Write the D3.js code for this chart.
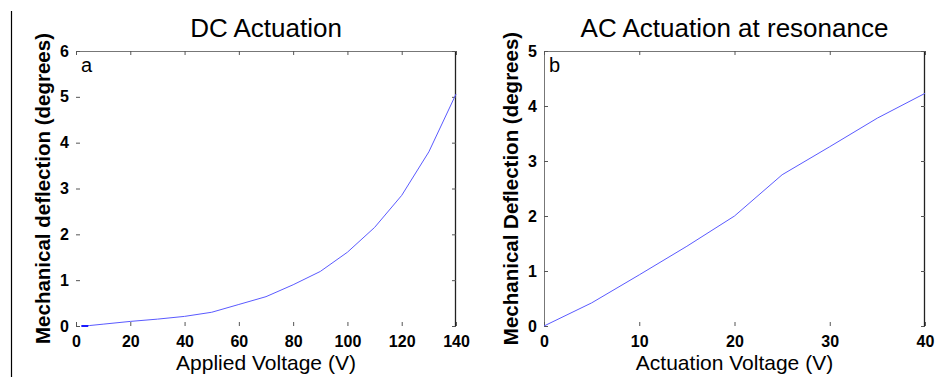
<!DOCTYPE html>
<html>
<head>
<meta charset="utf-8">
<script src="https://cdn.jsdelivr.net/npm/d3@7/dist/d3.min.js"></script>
<style>
  html, body { margin: 0; padding: 0; background: #fff; }
  svg { display: block; }
  text { font-family: "Liberation Sans", Arial, sans-serif; fill: #000; }
</style>
</head>
<body>
<svg id="chart" width="935" height="377"></svg>
<script>
// ---- Data ----
const dcVoltage    = [2, 5, 10, 20, 30, 40, 50, 60, 70, 80, 90, 100, 110, 120, 130, 140];
const dcDeflection = [0, 0.01, 0.04, 0.1, 0.15, 0.21, 0.3, 0.47, 0.64, 0.9, 1.19, 1.61, 2.15, 2.85, 3.8, 5.06];
const dcStartVoltage    = [2, 4.5];
const dcStartDeflection = [0, 0];
const acVoltage    = [0, 5, 10, 15, 20, 25, 30, 35, 40];
const acDeflection = [0, 0.42, 0.93, 1.45, 2.0, 2.75, 3.26, 3.78, 4.23];
const dcXTicks = [0, 20, 40, 60, 80, 100, 120, 140];
const dcYTicks = [0, 1, 2, 3, 4, 5, 6];
const acXTicks = [0, 10, 20, 30, 40];
const acYTicks = [0, 1, 2, 3, 4, 5];

const svg = d3.select("#chart");

// page border line at far left
svg.append("line").attr("x1", 11.5).attr("x2", 11.5).attr("y1", 11).attr("y2", 377)
  .attr("stroke", "#000").attr("stroke-width", 1.2);

function panel(opts) {
  const g = svg.append("g");
  const x = d3.scaleLinear().domain(opts.xDomain).range([opts.left, opts.right]);
  const y = d3.scaleLinear().domain(opts.yDomain).range([opts.bottom, opts.top]);
  const T = 4;

  // frame lines
  g.append("line").attr("x1", opts.left).attr("x2", opts.right).attr("y1", opts.top + 0.5).attr("y2", opts.top + 0.5)
    .attr("stroke", "#777").attr("stroke-width", 1);
  g.append("line").attr("x1", opts.right - 0.5).attr("x2", opts.right - 0.5).attr("y1", opts.top).attr("y2", opts.bottom)
    .attr("stroke", "#222").attr("stroke-width", 1.3);
  if (opts.leftLine) {
    g.append("line").attr("x1", opts.left + 0.5).attr("x2", opts.left + 0.5).attr("y1", opts.top).attr("y2", opts.bottom)
      .attr("stroke", "#777").attr("stroke-width", 1);
  }

  // axes (inward ticks)
  const styleAxis = (sel, labels) => {
    sel.select(".domain").remove();
    sel.selectAll(".tick line").attr("stroke", "#555").attr("stroke-width", 1);
    sel.selectAll(".tick text")
      .style("font-family", '"Liberation Sans", Arial, sans-serif')
      .style("font-size", "16px").style("font-weight", "bold").attr("fill", "#000");
    if (!labels) sel.selectAll(".tick text").remove();
  };
  g.append("g").attr("transform", `translate(0,${opts.bottom})`)
    .call(d3.axisBottom(x).tickValues(opts.xTicks).tickSize(-T).tickPadding(10).tickFormat(d3.format("d")))
    .call(s => styleAxis(s, true));
  g.append("g").attr("transform", `translate(0,${opts.top})`)
    .call(d3.axisTop(x).tickValues(opts.xTicks).tickSize(-T))
    .call(s => styleAxis(s, false));
  g.append("g").attr("transform", `translate(${opts.left},0)`)
    .call(d3.axisLeft(y).tickValues(opts.yTicks).tickSize(-T).tickPadding(7).tickFormat(d3.format("d")))
    .call(s => styleAxis(s, true));
  g.append("g").attr("transform", `translate(${opts.right},0)`)
    .call(d3.axisRight(y).tickValues(opts.yTicks).tickSize(-T))
    .call(s => styleAxis(s, false));

  const line = d3.line().x(d => x(d[0])).y(d => y(d[1]));
  // data line
  const pts = opts.xs.map((v, i) => [v, opts.ys[i]]);
  g.append("path").datum(pts)
    .attr("fill", "none").attr("stroke", "#5a5aff").attr("stroke-width", 1)
    .attr("d", line);
  if (opts.startXs) {
    const sp = opts.startXs.map((v, i) => [v, opts.startYs[i]]);
    g.append("path").datum(sp)
      .attr("fill", "none").attr("stroke", "#1a1aff").attr("stroke-width", 2)
      .attr("d", line);
  }

  const cx = (opts.left + opts.right) / 2;
  // title
  g.append("text").attr("x", cx).attr("y", 37).attr("text-anchor", "middle")
    .style("font-size", "26px").text(opts.title);
  // x label
  g.append("text").attr("x", cx).attr("y", 370).attr("text-anchor", "middle")
    .style("font-size", "21px").text(opts.xLabel);
  // y label
  g.append("text").attr("transform", `translate(${opts.yLabelX},${(opts.top + opts.bottom) / 2}) rotate(-90)`)
    .attr("text-anchor", "middle").style("font-size", "20.5px").style("font-weight", "bold").text(opts.yLabel);
  // panel letter
  g.append("text").attr("x", opts.left + 5).attr("y", 72).style("font-size", "20px").text(opts.letter);
}

panel({
  left: 76, right: 456, top: 51, bottom: 326,
  xDomain: [0, 140], yDomain: [0, 6], xTicks: dcXTicks, yTicks: dcYTicks,
  xs: dcVoltage, ys: dcDeflection, startXs: dcStartVoltage, startYs: dcStartDeflection,
  title: "DC Actuation", xLabel: "Applied Voltage (V)",
  yLabel: "Mechanical deflection (degrees)", yLabelX: 50, letter: "a", leftLine: false
});

panel({
  left: 544, right: 925, top: 51, bottom: 326,
  xDomain: [0, 40], yDomain: [0, 5], xTicks: acXTicks, yTicks: acYTicks,
  xs: acVoltage, ys: acDeflection,
  title: "AC Actuation at resonance", xLabel: "Actuation Voltage (V)",
  yLabel: "Mechanical Deflection (degrees)", yLabelX: 518, letter: "b", leftLine: true
});
</script>
</body>
</html>
